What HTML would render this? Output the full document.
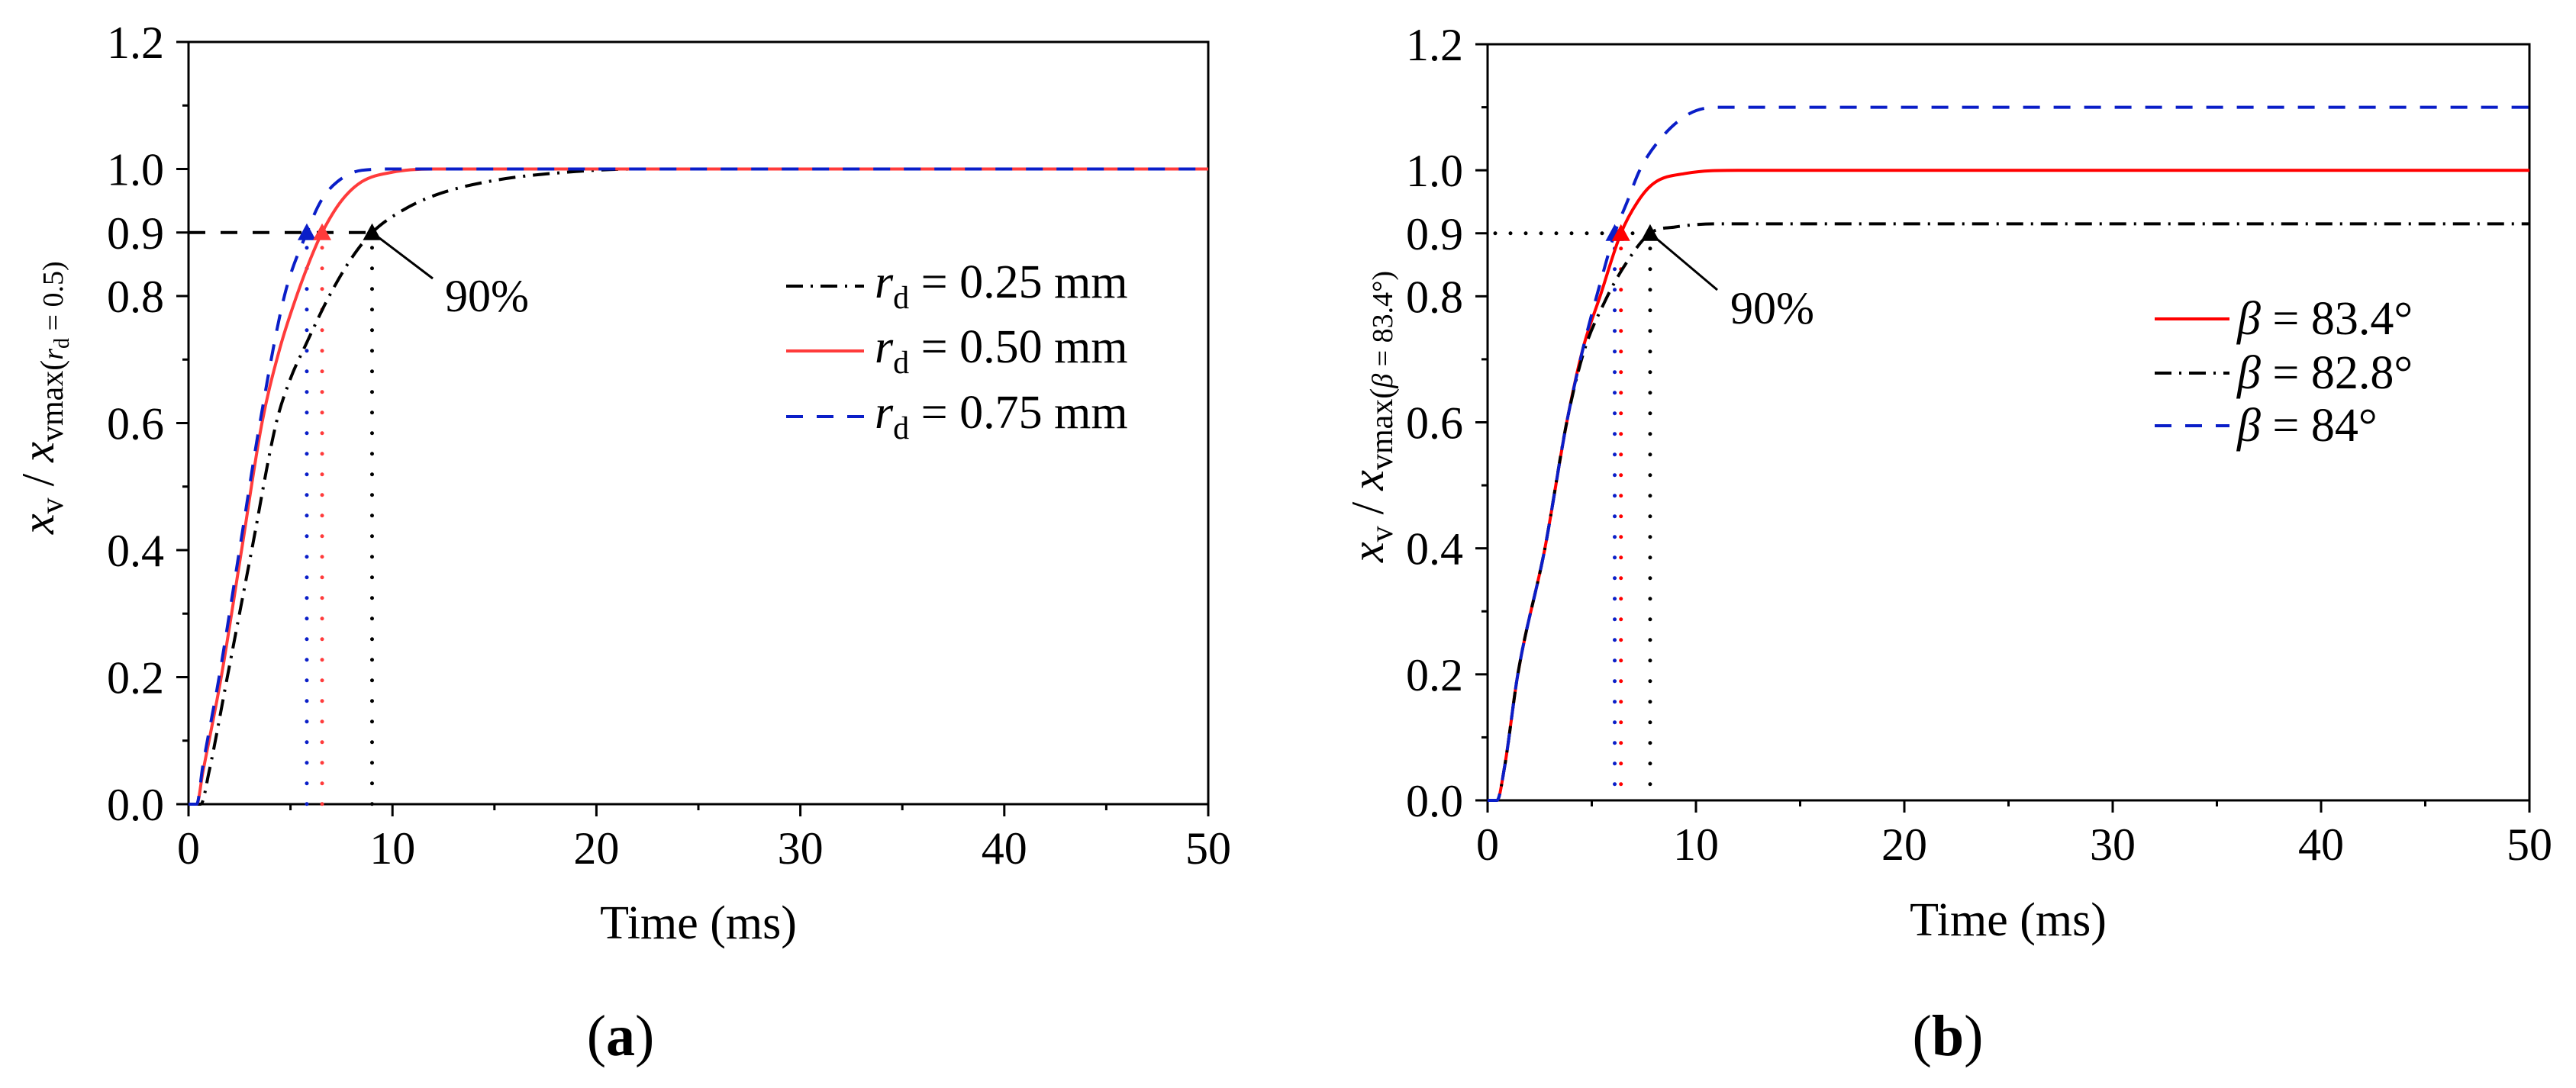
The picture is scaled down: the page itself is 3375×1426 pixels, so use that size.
<!DOCTYPE html>
<html><head><meta charset="utf-8">
<style>
html,body{margin:0;padding:0;background:#fff;}
svg{display:block;}
text{font-family:"Liberation Serif","DejaVu Serif",serif;fill:#000;}
</style></head>
<body>
<svg id="fig" width="3375" height="1426" viewBox="0 0 3375 1426" xmlns="http://www.w3.org/2000/svg">
<rect x="0" y="0" width="3375" height="1426" fill="#fff"/>
<g id="pa"></g>
<g id="pb"></g>

<text transform="translate(70,700) rotate(-90)" font-size="60"><tspan font-style="italic">x</tspan><tspan font-size="42" dy="12">v</tspan><tspan dy="-12"> / </tspan><tspan font-style="italic">x</tspan><tspan font-size="42" dy="12">vmax(</tspan><tspan font-size="38" font-style="italic">r</tspan><tspan font-size="28" dy="8">d</tspan><tspan font-size="38" dy="-8"> = 0.5)</tspan></text>
<text x="915" y="1230" font-size="62" text-anchor="middle">Time (ms)</text>
<text x="813" y="1383" font-size="76" text-anchor="middle">(<tspan font-weight="bold">a</tspan>)</text>
<text x="583" y="408" font-size="60">90%</text>

<text transform="translate(1812,737) rotate(-90)" font-size="60"><tspan font-style="italic">x</tspan><tspan font-size="42" dy="12">v</tspan><tspan dy="-12"> / </tspan><tspan font-style="italic">x</tspan><tspan font-size="42" dy="12">vmax(</tspan><tspan font-size="38" font-style="italic">β</tspan><tspan font-size="38"> = 83.4°)</tspan></text>
<text x="2631" y="1226" font-size="62" text-anchor="middle">Time (ms)</text>
<text x="2552" y="1383" font-size="76" text-anchor="middle">(<tspan font-weight="bold">b</tspan>)</text>
<text x="2267" y="424" font-size="60">90%</text>
</svg>
<script>
// ---- Panel a data ----
const aBlackT=[0,0.6,1.0,1.9,3.1,4.3,5.0,5.7,6.9,8.0,9.0,10.5,12.2,15,19,22,50];
const aBlackV=[0,0,0.05,0.2,0.4,0.6,0.67,0.72,0.8,0.86,0.9,0.935,0.96,0.982,0.996,1.0,1.0];
const aRedT=[0,0.4,0.7,1.6,2.6,3.6,4.5,5.3,6.0,6.55,7.5,8.5,10,12,50];
const aRedV=[0,0,0.05,0.2,0.4,0.6,0.72,0.8,0.86,0.9,0.95,0.98,0.995,1.0,1.0];
const aBlueT=[0,0.4,0.7,1.5,2.5,3.5,4.7,5.8,6.5,7.3,8.5,10,50];
const aBlueV=[0,0,0.06,0.2,0.4,0.6,0.8,0.9,0.95,0.98,0.998,1.0,1.0];
const aMarkT=[5.8,6.55,9.0];
const aLegendLabels=["= 0.25 mm","= 0.50 mm","= 0.75 mm"];
// ---- Panel b data ----
const bRedT=[0,0.45,0.8,1.45,2.75,3.8,4.6,5.4,6.4,7.2,8.0,9.5,12,50];
const bRedV=[0,0,0.05,0.2,0.4,0.6,0.72,0.8,0.9,0.95,0.98,0.995,1.0,1.0];
const bBlackT=[0,0.45,0.8,1.45,2.75,3.8,4.6,5.6,6.6,7.8,9.0,11,50];
const bBlackV=[0,0,0.05,0.2,0.4,0.6,0.71,0.79,0.85,0.9,0.91,0.915,0.915];
const bBlueT=[0,0.45,0.8,1.45,2.75,3.8,4.6,5.4,6.1,6.7,7.3,8.3,9.7,11,50];
const bBlueV=[0,0,0.05,0.2,0.4,0.6,0.72,0.82,0.9,0.95,1.0,1.05,1.09,1.1,1.1];
const bMarkT=[6.1,6.4,7.8];
const bLegendLabels=["= 83.4°","= 82.8°","= 84°"];
// ---- axis ticks ----
const xTickVals=[0,10,20,30,40,50];
const yTickVals=[0,0.2,0.4,0.6,0.8,0.9,1.0,1.2];
const yTickLabels=["0.0","0.2","0.4","0.6","0.8","0.9","1.0","1.2"];

const NS="http://www.w3.org/2000/svg";
function mk(parent,tag,attrs){const e=document.createElementNS(NS,tag);for(const k in attrs)e.setAttribute(k,attrs[k]);parent.appendChild(e);return e;}

// monotone cubic (Fritsch-Carlson)
function pathFrom(T,V,xs,ys){
  const X=T.map(xs),Y=V.map(ys),n=X.length;
  const d=[],m=new Array(n);
  for(let i=0;i<n-1;i++)d.push((Y[i+1]-Y[i])/(X[i+1]-X[i]));
  m[0]=d[0];m[n-1]=d[n-2];
  for(let i=1;i<n-1;i++){m[i]=(d[i-1]*d[i]<=0)?0:(d[i-1]+d[i])/2;}
  for(let i=0;i<n-1;i++){
    if(d[i]===0){m[i]=0;m[i+1]=0;continue;}
    const a=m[i]/d[i],b=m[i+1]/d[i],s=a*a+b*b;
    if(s>9){const t=3/Math.sqrt(s);m[i]=t*a*d[i];m[i+1]=t*b*d[i];}
  }
  let p="M"+X[0].toFixed(1)+","+Y[0].toFixed(1);
  for(let i=0;i<n-1;i++){
    const h=(X[i+1]-X[i])/3;
    p+=" C"+(X[i]+h).toFixed(1)+","+(Y[i]+m[i]*h).toFixed(1)+" "+(X[i+1]-h).toFixed(1)+","+(Y[i+1]-m[i+1]*h).toFixed(1)+" "+X[i+1].toFixed(1)+","+Y[i+1].toFixed(1);
  }
  return p;
}

function axes(g,x0,x1,y0,y1,xs,ys,prefix){
  const ax=mk(g,"g",{});
  
  
  for(let t=0;t<=50;t+=5){
    const major=(t%10===0);
    const tk=mk(ax,"line",{x1:xs(t),x2:xs(t),y1:y0,y2:y0+(major?16:8),stroke:"#000","stroke-width":3});
    
    
  }
  xTickVals.forEach(v=>{
    const tx=mk(ax,"text",{x:xs(v),y:y0+78,"font-size":60,"text-anchor":"middle"});
    tx.textContent=String(v);
    
    
  });
  for(let i=0;i<=12;i++){
    const v=i/10;
    const major=yTickVals.some(q=>Math.abs(q-v)<1e-6);
    const tk=mk(ax,"line",{x1:x0-(major?16:8),x2:x0,y1:ys(v),y2:ys(v),stroke:"#000","stroke-width":3});
    
    
  }
  yTickVals.forEach((v,i)=>{
    const tx=mk(ax,"text",{x:x0-32,y:ys(v)+21,"font-size":60,"text-anchor":"end"});
    tx.textContent=yTickLabels[i];
    
    
  });
  const fr=mk(ax,"rect",{x:x0,y:y1,width:x1-x0,height:y0-y1,fill:"none",stroke:"#000","stroke-width":3});
  
  
}

function tri(g,cx,cy,color){
  return mk(g,"polygon",{points:(cx-12)+","+(cy+10)+" "+(cx+12)+","+(cy+10)+" "+cx+","+(cy-12),fill:color});
}

// ===== Panel A =====
(function(){
  const g=document.getElementById("pa");
  const X0=247,X1=1583,Y0=1054,Y1=55;
  const xs=t=>X0+t*(X1-X0)/50, ys=v=>Y0-v*(Y0-Y1)/1.2;
  axes(g,X0,X1,Y0,Y1,xs,ys,'panel-a');
  const colors=["#000","#ff3b3b","#0a1ec8"];
  const dashes=["22 10 3 10","","22 18"];
  const series=[[aBlackT,aBlackV,'series-rd-025'],[aRedT,aRedV,'series-rd-050'],[aBlueT,aBlueV,'series-rd-075']];
  const hl=mk(g,"line",{x1:X0,x2:xs(aMarkT[2]),y1:ys(0.9),y2:ys(0.9),stroke:"#000","stroke-width":4,"stroke-dasharray":"22 20"});
  
  
  const mc=["#0a1ec8","#ff3b3b","#000"];
  aMarkT.forEach((t,i)=>{
    const vl=mk(g,"line",{x1:xs(t),x2:xs(t),y1:ys(0.9)+20,y2:Y0,stroke:mc[i],"stroke-width":5,"stroke-linecap":"round","stroke-dasharray":"0 27"});
    
    
  });
  [0,1,2].forEach(i=>{
    const s=series[i];
    const p=mk(g,"path",{d:pathFrom(s[0],s[1],xs,ys),fill:"none",stroke:colors[i],"stroke-width":4,"stroke-dasharray":dashes[i]||"none"});
    
    
  });
  aMarkT.forEach((t,i)=>{
    const m=tri(g,xs(t),ys(0.9),mc[i]);
    
    
  });
  const ar=mk(g,"line",{x1:xs(aMarkT[2]),y1:ys(0.9),x2:567,y2:365,stroke:"#000","stroke-width":3});
  
  
  const lg=mk(g,"g",{});
  
  
  const ly=[375,460,546];
  aLegendLabels.forEach((lab,i)=>{
    const e=mk(lg,"g",{});
    
    
    mk(e,"line",{x1:1030,x2:1132,y1:ly[i],y2:ly[i],stroke:colors[i],"stroke-width":4,"stroke-dasharray":dashes[i]||"none"});
    const t=mk(e,"text",{x:1146,y:ly[i]+15,"font-size":62});
    t.innerHTML='<tspan font-style="italic">r</tspan><tspan font-size="42" dy="14">d</tspan><tspan dy="-14"> '+lab+'</tspan>';
  });
})();

// ===== Panel B =====
(function(){
  const g=document.getElementById("pb");
  const X0=1949,X1=3314,Y0=1049,Y1=58;
  const xs=t=>X0+t*(X1-X0)/50, ys=v=>Y0-v*(Y0-Y1)/1.2;
  axes(g,X0,X1,Y0,Y1,xs,ys,'panel-b');
  const colors=["#ff0000","#000","#0a1ec8"];
  const dashes=["","22 10 3 10","22 18"];
  const series=[[bRedT,bRedV,'series-beta-834'],[bBlackT,bBlackV,'series-beta-828'],[bBlueT,bBlueV,'series-beta-84']];
  const hl=mk(g,"line",{x1:X0+10,x2:xs(bMarkT[2]),y1:ys(0.9),y2:ys(0.9),stroke:"#000","stroke-width":5,"stroke-linecap":"round","stroke-dasharray":"0 20"});
  
  
  const mc=["#0a1ec8","#ff0000","#000"];
  bMarkT.forEach((t,i)=>{
    const vl=mk(g,"line",{x1:xs(t),x2:xs(t),y1:ys(0.9)+20,y2:Y0,stroke:mc[i],"stroke-width":5,"stroke-linecap":"round","stroke-dasharray":"0 27"});
    
    
  });
  [0,1,2].forEach(i=>{
    const s=series[i];
    const p=mk(g,"path",{d:pathFrom(s[0],s[1],xs,ys),fill:"none",stroke:colors[i],"stroke-width":4,"stroke-dasharray":dashes[i]||"none"});
    
    
  });
  bMarkT.forEach((t,i)=>{
    const m=tri(g,xs(t),ys(0.9),mc[i]);
    
    
  });
  const ar=mk(g,"line",{x1:xs(bMarkT[2]),y1:ys(0.9),x2:2250,y2:380,stroke:"#000","stroke-width":3});
  
  
  const lg=mk(g,"g",{});
  
  
  const ly=[418,489,558];
  bLegendLabels.forEach((lab,i)=>{
    const e=mk(lg,"g",{});
    
    
    mk(e,"line",{x1:2823,x2:2921,y1:ly[i],y2:ly[i],stroke:colors[i],"stroke-width":4,"stroke-dasharray":dashes[i]||"none"});
    const t=mk(e,"text",{x:2931,y:ly[i]+20,"font-size":62});
    t.innerHTML='<tspan font-style="italic">β</tspan> '+lab;
  });
})();
</script>
</body></html>
